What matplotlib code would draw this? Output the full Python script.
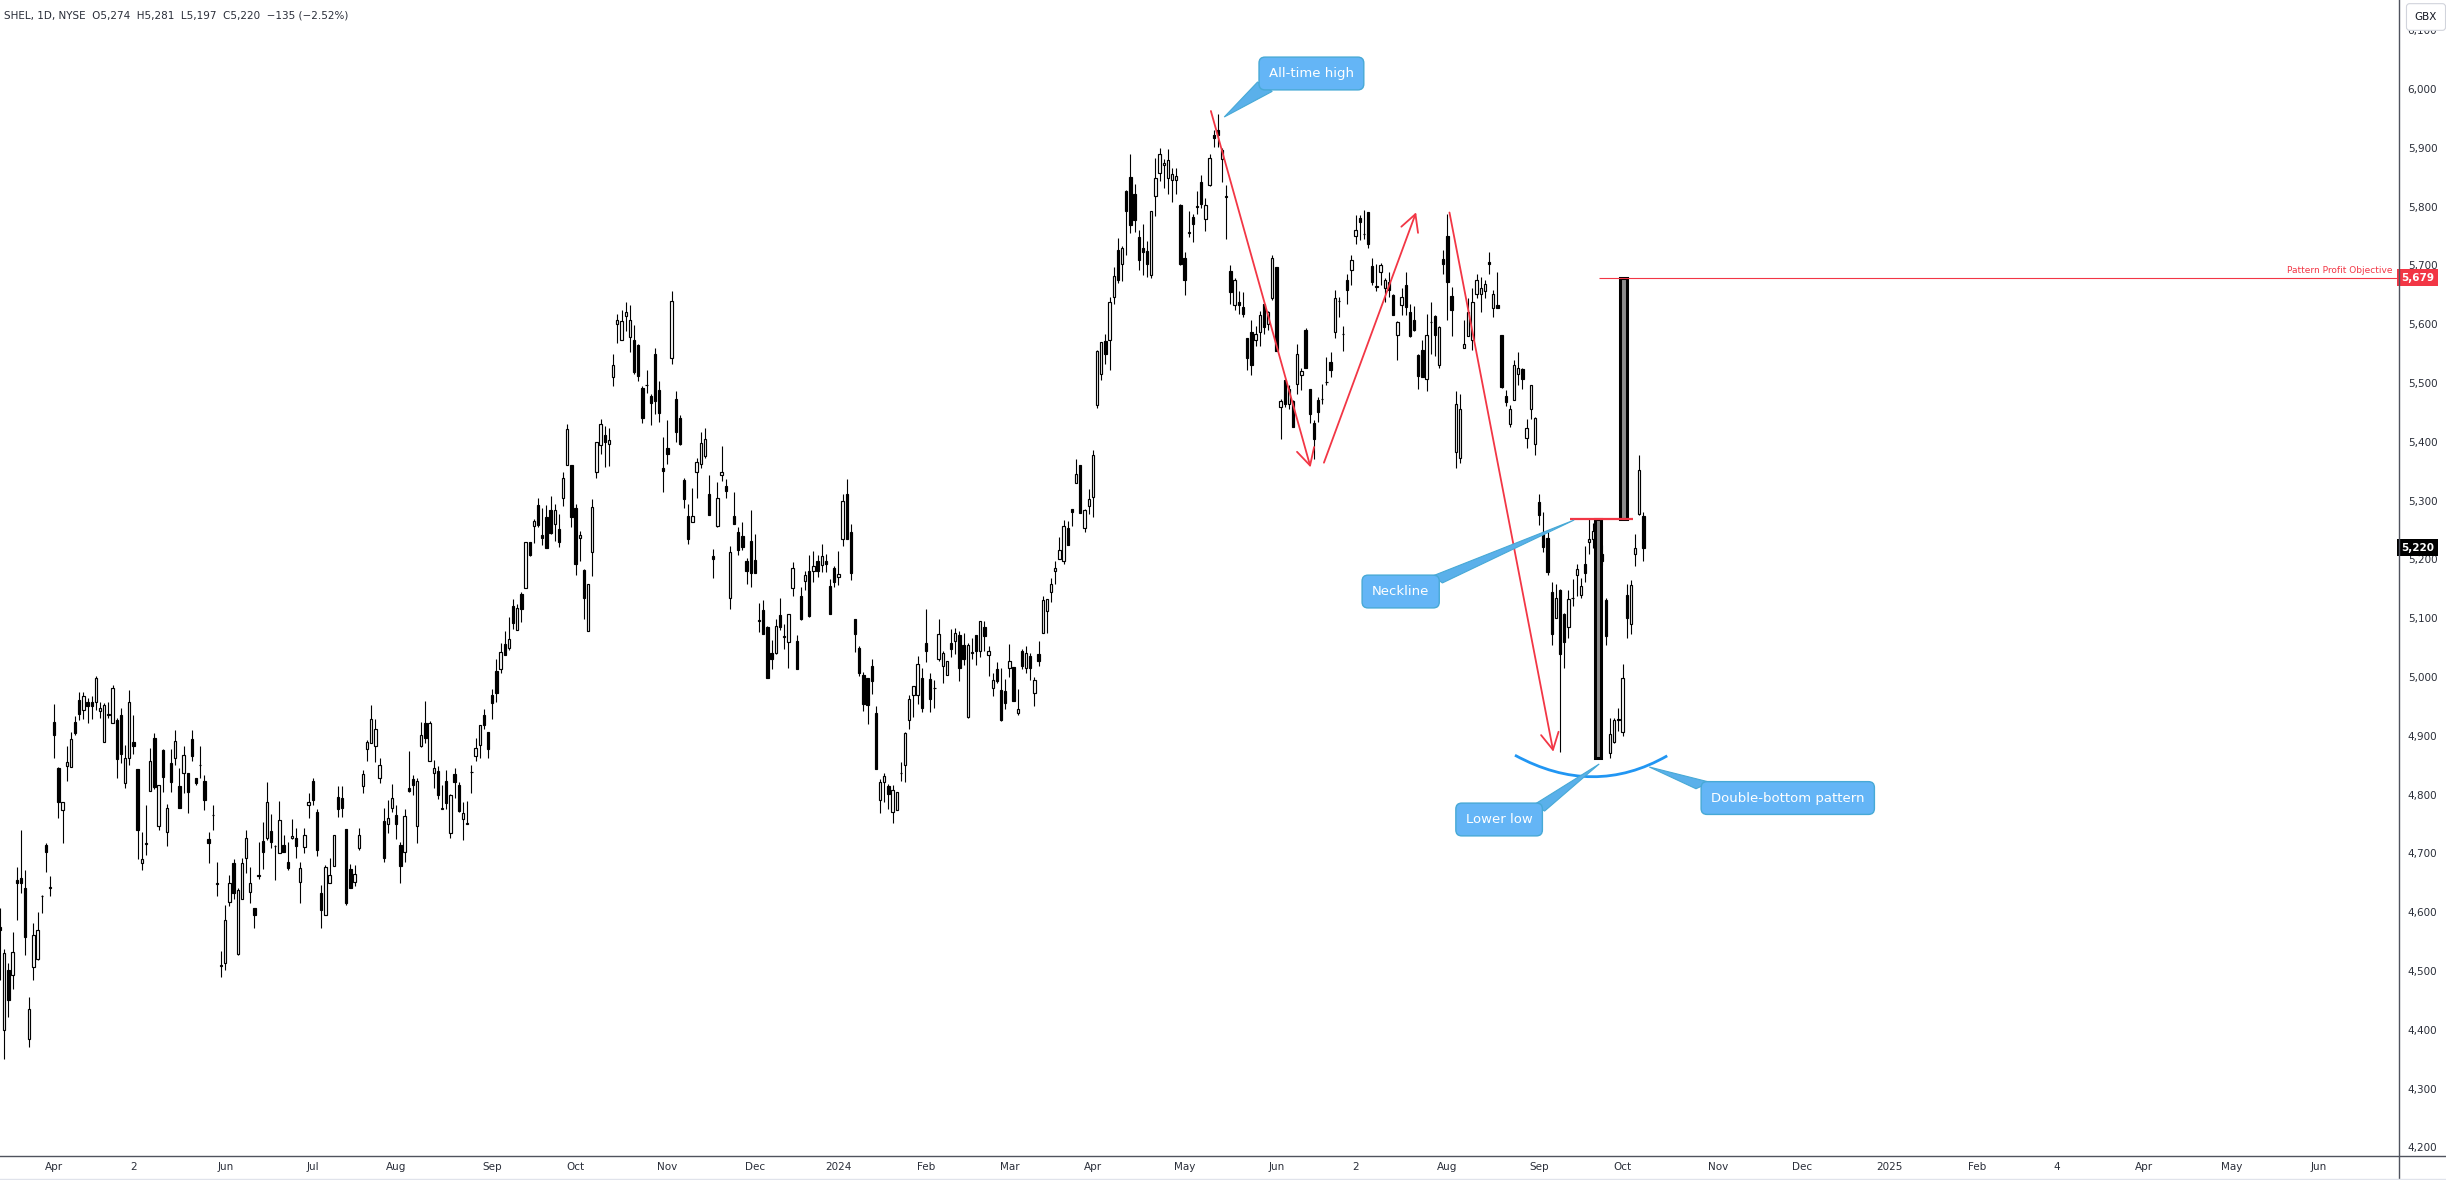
import numpy as np
import pandas as pd
import matplotlib
matplotlib.use('Agg')
import matplotlib.pyplot as plt
from matplotlib.patches import Rectangle, Polygon, PathPatch
from matplotlib.path import Path
from matplotlib.lines import Line2D

# daily candles, SHEL, from 2023-03-15
opens = [
    4575, 4400, 4502, 4493, 4655, 4659, 4642, 4385, 4507, 4521,
    4627, 4715, 4642, 4923, 4845, 4773, 4849, 4847, 4923, 4961,
    4944, 4957, 4957, 4957, 4943, 4890, 4936, 4921, 4927, 4935,
    4820, 4863, 4889, 4844, 4683, 4716, 4807, 4896, 4747, 4876,
    4737, 4853, 4863, 4815, 4836, 4836, 4894, 4828, 4850, 4823,
    4724, 4765, 4648, 4509, 4513, 4617, 4683, 4529, 4622, 4692,
    4635, 4608, 4662, 4721, 4727, 4738, 4712, 4701, 4715, 4685,
    4726, 4727, 4651, 4711, 4782, 4823, 4770, 4632, 4596, 4650,
    4679, 4796, 4794, 4741, 4673, 4652, 4709, 4815, 4877, 4888,
    4883, 4828, 4755, 4750, 4777, 4765, 4714, 4703, 4812, 4826,
    4746, 4883, 4922, 4858, 4836, 4840, 4776, 4823, 4734, 4835,
    4816, 4759, 4750, 4838, 4866, 4885, 4935, 4906, 4969, 5010,
    5013, 5057, 5050, 5121, 5080, 5141, 5152, 5230, 5257, 5293,
    5241, 5272, 5284, 5260, 5251, 5304, 5360, 5360, 5288, 5236,
    5182, 5078, 5213, 5348, 5394, 5411, 5397, 5511, 5601, 5574,
    5614, 5579, 5574, 5564, 5492, 5496, 5478, 5549, 5488, 5356,
    5390, 5543, 5472, 5441, 5335, 5274, 5264, 5349, 5363, 5376,
    5312, 5205, 5257, 5343, 5325, 5135, 5274, 5246, 5239, 5198,
    5232, 5199, 5096, 5114, 5085, 5040, 5041, 5105, 5068, 5059,
    5151, 5062, 5137, 5164, 5181, 5181, 5198, 5191, 5198, 5155,
    5186, 5170, 5234, 5312, 5246, 5098, 5050, 5004, 4999, 5018,
    4938, 4791, 4821, 4815, 4770, 4774, 4836, 4851, 4927, 4970,
    4970, 4999, 5058, 4996, 4981, 5030, 5018, 5003, 5058, 5061,
    5072, 5055, 4932, 5041, 5072, 5045, 5085, 5038, 4981, 5014,
    4978, 4976, 5015, 5017, 4938, 5045, 5015, 5036, 4973, 5039,
    5075, 5112, 5145, 5181, 5200, 5198, 5254, 5286, 5330, 5361,
    5254, 5290, 5307, 5462, 5516, 5571, 5574, 5646, 5727, 5702,
    5826, 5851, 5822, 5748, 5729, 5724, 5683, 5818, 5857, 5870,
    5849, 5846, 5846, 5803, 5712, 5755, 5783, 5800, 5842, 5779,
    5836, 5921, 5931, 5881, 5817, 5690, 5632, 5638, 5630, 5577,
    5586, 5573, 5586, 5634, 5601, 5644, 5697, 5459, 5505, 5465,
    5469, 5499, 5513, 5591, 5489, 5432, 5471, 5472, 5501, 5536,
    5586, 5639, 5583, 5676, 5693, 5750, 5781, 5753, 5791, 5699,
    5664, 5689, 5661, 5671, 5649, 5581, 5632, 5667, 5620, 5608,
    5547, 5556, 5506, 5603, 5614, 5531, 5711, 5750, 5648, 5382,
    5372, 5559, 5580, 5574, 5652, 5652, 5657, 5706, 5628, 5632,
    5582, 5478, 5431, 5471, 5516, 5523, 5406, 5455, 5397, 5298,
    5246, 5237, 5144, 5101, 5148, 5107, 5085, 5134, 5173, 5139,
    5193, 5229, 5234, 5245, 5209, 5131, 4870, 4890, 4927, 4906,
    5139, 5091, 5210, 5278, 5274,
]
highs = [
    4607, 4538, 4513, 4567, 4677, 4740, 4672, 4456, 4581, 4601,
    4629, 4718, 4661, 4954, 4847, 4788, 4883, 4906, 4933, 4975,
    4974, 4965, 4967, 5002, 4958, 4955, 4958, 4987, 4930, 4948,
    4884, 4978, 4935, 4844, 4737, 4782, 4879, 4904, 4817, 4878,
    4784, 4878, 4910, 4846, 4882, 4837, 4910, 4829, 4883, 4833,
    4736, 4782, 4685, 4534, 4612, 4664, 4690, 4642, 4692, 4740,
    4677, 4608, 4719, 4753, 4821, 4767, 4714, 4789, 4732, 4720,
    4758, 4743, 4685, 4743, 4802, 4828, 4775, 4646, 4680, 4693,
    4731, 4815, 4815, 4741, 4682, 4680, 4743, 4842, 4893, 4952,
    4928, 4863, 4777, 4791, 4818, 4782, 4719, 4775, 4874, 4833,
    4828, 4924, 4959, 4925, 4859, 4849, 4816, 4842, 4801, 4845,
    4821, 4788, 4789, 4850, 4897, 4918, 4945, 4906, 4980, 5031,
    5058, 5078, 5102, 5132, 5124, 5144, 5230, 5230, 5268, 5305,
    5287, 5293, 5308, 5294, 5277, 5348, 5431, 5360, 5295, 5248,
    5183, 5159, 5302, 5400, 5438, 5427, 5423, 5550, 5618, 5625,
    5637, 5632, 5598, 5566, 5495, 5522, 5482, 5559, 5504, 5408,
    5437, 5656, 5486, 5445, 5339, 5294, 5322, 5372, 5417, 5424,
    5343, 5217, 5332, 5393, 5337, 5222, 5314, 5255, 5263, 5203,
    5284, 5243, 5126, 5131, 5086, 5063, 5099, 5135, 5090, 5107,
    5196, 5072, 5153, 5181, 5207, 5215, 5207, 5227, 5210, 5167,
    5189, 5215, 5312, 5337, 5260, 5099, 5052, 5009, 4999, 5031,
    4951, 4827, 4837, 4818, 4817, 4804, 4856, 4906, 4970, 4985,
    5035, 5015, 5116, 5007, 4995, 5099, 5045, 5028, 5081, 5083,
    5078, 5075, 5058, 5066, 5072, 5096, 5096, 5053, 5006, 5025,
    5015, 4996, 5056, 5017, 4979, 5047, 5053, 5041, 5000, 5061,
    5137, 5133, 5169, 5197, 5238, 5267, 5265, 5286, 5370, 5361,
    5286, 5319, 5386, 5556, 5570, 5584, 5646, 5697, 5746, 5733,
    5828, 5889, 5838, 5760, 5771, 5741, 5792, 5882, 5899, 5881,
    5898, 5865, 5866, 5805, 5723, 5793, 5787, 5827, 5853, 5814,
    5890, 5930, 5957, 5900, 5836, 5700, 5679, 5657, 5654, 5577,
    5608, 5597, 5622, 5635, 5622, 5717, 5697, 5473, 5505, 5496,
    5471, 5566, 5525, 5594, 5489, 5437, 5476, 5499, 5545, 5553,
    5659, 5646, 5597, 5685, 5717, 5786, 5785, 5795, 5791, 5713,
    5702, 5704, 5679, 5688, 5651, 5606, 5662, 5688, 5634, 5631,
    5549, 5574, 5618, 5638, 5615, 5597, 5727, 5788, 5664, 5487,
    5482, 5608, 5644, 5661, 5686, 5681, 5676, 5723, 5658, 5688,
    5582, 5488, 5462, 5539, 5552, 5526, 5438, 5497, 5442, 5311,
    5281, 5250, 5161, 5159, 5150, 5109, 5148, 5166, 5193, 5168,
    5223, 5270, 5262, 5255, 5224, 5135, 4931, 4931, 4948, 5022,
    5158, 5165, 5244, 5377, 5281,
]
lows = [
    4485, 4351, 4422, 4470, 4587, 4632, 4527, 4371, 4485, 4519,
    4599, 4669, 4628, 4863, 4760, 4718, 4824, 4847, 4901, 4927,
    4929, 4921, 4929, 4944, 4930, 4890, 4930, 4921, 4828, 4854,
    4812, 4850, 4869, 4690, 4671, 4697, 4807, 4810, 4740, 4804,
    4713, 4804, 4850, 4777, 4803, 4769, 4858, 4817, 4829, 4773,
    4683, 4740, 4628, 4490, 4502, 4611, 4622, 4527, 4622, 4666,
    4615, 4574, 4656, 4673, 4722, 4710, 4654, 4701, 4702, 4671,
    4724, 4693, 4615, 4700, 4760, 4782, 4696, 4574, 4596, 4649,
    4679, 4762, 4762, 4613, 4642, 4645, 4706, 4802, 4858, 4888,
    4856, 4820, 4686, 4734, 4771, 4724, 4649, 4686, 4805, 4799,
    4718, 4881, 4888, 4858, 4811, 4793, 4775, 4775, 4727, 4794,
    4771, 4722, 4750, 4803, 4857, 4862, 4911, 4862, 4928, 4958,
    5007, 5037, 5046, 5081, 5080, 5094, 5152, 5206, 5228, 5255,
    5225, 5219, 5243, 5232, 5221, 5291, 5360, 5255, 5173, 5198,
    5098, 5078, 5172, 5338, 5380, 5357, 5359, 5495, 5568, 5574,
    5589, 5553, 5516, 5504, 5432, 5483, 5429, 5447, 5434, 5314,
    5363, 5532, 5400, 5395, 5288, 5227, 5264, 5304, 5355, 5373,
    5275, 5169, 5255, 5333, 5305, 5115, 5260, 5207, 5216, 5158,
    5153, 5177, 5077, 5073, 4998, 5014, 5039, 5080, 5047, 5016,
    5138, 5013, 5097, 5148, 5102, 5162, 5170, 5179, 5179, 5107,
    5153, 5156, 5222, 5234, 5165, 5042, 5001, 4943, 4920, 4971,
    4844, 4769, 4788, 4775, 4752, 4774, 4824, 4821, 4911, 4932,
    4954, 4941, 5026, 4941, 4947, 5028, 4989, 5003, 5034, 5039,
    4994, 5021, 4930, 5031, 5021, 5034, 5045, 5002, 4968, 4990,
    4925, 4946, 5000, 4960, 4935, 5014, 5006, 4995, 4951, 5018,
    5075, 5075, 5128, 5159, 5200, 5192, 5224, 5257, 5330, 5279,
    5247, 5278, 5272, 5458, 5505, 5532, 5522, 5634, 5670, 5674,
    5717, 5755, 5756, 5692, 5683, 5680, 5679, 5784, 5844, 5832,
    5822, 5808, 5822, 5700, 5649, 5748, 5739, 5788, 5797, 5759,
    5835, 5902, 5902, 5842, 5745, 5635, 5624, 5617, 5612, 5522,
    5514, 5563, 5563, 5584, 5590, 5642, 5555, 5404, 5459, 5456,
    5425, 5482, 5488, 5525, 5432, 5371, 5434, 5465, 5496, 5510,
    5577, 5612, 5555, 5635, 5667, 5736, 5744, 5745, 5729, 5667,
    5656, 5667, 5638, 5646, 5616, 5540, 5615, 5615, 5579, 5589,
    5489, 5510, 5486, 5549, 5546, 5526, 5685, 5608, 5580, 5356,
    5364, 5559, 5580, 5556, 5645, 5621, 5644, 5685, 5613, 5627,
    5491, 5461, 5425, 5471, 5496, 5489, 5389, 5438, 5377, 5258,
    5213, 5174, 5055, 5100, 4873, 5015, 5066, 5121, 5137, 5134,
    5162, 5209, 5220, 5205, 5190, 5054, 4863, 4887, 4909, 4900,
    5067, 5073, 5188, 5276, 5197,
]
closes = [
    4570, 4530, 4451, 4533, 4649, 4649, 4558, 4436, 4561, 4569,
    4628, 4702, 4643, 4901, 4788, 4787, 4856, 4894, 4905, 4937,
    4968, 4951, 4950, 4998, 4947, 4953, 4937, 4982, 4860, 4869,
    4863, 4957, 4882, 4740, 4690, 4717, 4858, 4813, 4817, 4830,
    4777, 4821, 4891, 4777, 4867, 4805, 4866, 4820, 4851, 4791,
    4718, 4766, 4649, 4510, 4587, 4649, 4632, 4638, 4683, 4727,
    4649, 4595, 4663, 4703, 4788, 4719, 4713, 4757, 4702, 4675,
    4730, 4713, 4675, 4732, 4787, 4790, 4705, 4604, 4677, 4664,
    4731, 4775, 4778, 4616, 4642, 4665, 4731, 4835, 4889, 4928,
    4912, 4850, 4693, 4760, 4795, 4750, 4679, 4764, 4806, 4816,
    4823, 4902, 4897, 4921, 4846, 4799, 4777, 4786, 4799, 4821,
    4772, 4768, 4751, 4839, 4880, 4918, 4918, 4877, 4955, 4973,
    5042, 5038, 5065, 5092, 5118, 5116, 5229, 5207, 5265, 5259,
    5237, 5219, 5245, 5284, 5230, 5338, 5421, 5272, 5192, 5242,
    5134, 5159, 5289, 5400, 5431, 5400, 5403, 5530, 5608, 5605,
    5620, 5607, 5518, 5512, 5441, 5497, 5466, 5470, 5449, 5351,
    5380, 5639, 5417, 5397, 5302, 5234, 5274, 5366, 5398, 5404,
    5275, 5200, 5304, 5349, 5316, 5213, 5260, 5216, 5221, 5181,
    5177, 5177, 5097, 5073, 4998, 5031, 5086, 5085, 5069, 5107,
    5186, 5013, 5099, 5173, 5104, 5189, 5181, 5205, 5192, 5107,
    5162, 5176, 5300, 5234, 5177, 5074, 5006, 4954, 4952, 4994,
    4844, 4822, 4832, 4801, 4808, 4804, 4837, 4905, 4963, 4984,
    5022, 4947, 5044, 4963, 4982, 5073, 5041, 5028, 5047, 5075,
    5015, 5031, 5055, 5042, 5045, 5095, 5069, 5044, 4995, 4993,
    4927, 4955, 5028, 4960, 4946, 5018, 5041, 5015, 4995, 5028,
    5131, 5133, 5158, 5186, 5216, 5256, 5224, 5281, 5346, 5279,
    5284, 5303, 5377, 5554, 5569, 5550, 5637, 5682, 5676, 5729,
    5793, 5768, 5777, 5709, 5722, 5702, 5792, 5849, 5890, 5874,
    5880, 5855, 5852, 5702, 5676, 5756, 5771, 5801, 5805, 5803,
    5883, 5916, 5921, 5896, 5818, 5654, 5675, 5632, 5618, 5543,
    5530, 5583, 5616, 5595, 5621, 5713, 5555, 5469, 5465, 5490,
    5425, 5550, 5520, 5525, 5448, 5405, 5451, 5473, 5502, 5522,
    5645, 5640, 5584, 5658, 5709, 5761, 5773, 5754, 5737, 5672,
    5665, 5700, 5676, 5658, 5616, 5603, 5646, 5629, 5580, 5590,
    5512, 5510, 5582, 5604, 5582, 5595, 5703, 5671, 5625, 5465,
    5455, 5567, 5620, 5637, 5675, 5662, 5669, 5702, 5652, 5627,
    5493, 5467, 5455, 5531, 5526, 5506, 5423, 5496, 5441, 5275,
    5221, 5179, 5074, 5134, 5039, 5060, 5133, 5135, 5183, 5155,
    5177, 5234, 5248, 5215, 5198, 5069, 4903, 4927, 4928, 4998,
    5101, 5156, 5219, 5352, 5220,
]

first_day = '2023-03-15'
nyse_holidays = ['2023-04-07', '2023-05-29', '2023-06-19', '2023-07-04', '2023-09-04',
                 '2023-11-23', '2023-12-25', '2024-01-01', '2024-01-15', '2024-02-19',
                 '2024-03-29', '2024-05-27', '2024-06-19', '2024-07-04', '2024-09-02',
                 '2024-11-28', '2024-12-25', '2025-01-01', '2025-01-20', '2025-02-17',
                 '2025-04-18', '2025-05-26']
month_labels = ['Apr', '2', 'Jun', 'Jul', 'Aug', 'Sep', 'Oct', 'Nov', 'Dec', '2024',
                'Feb', 'Mar', 'Apr', 'May', 'Jun', '2', 'Aug', 'Sep', 'Oct', 'Nov',
                'Dec', '2025', 'Feb', '4', 'Apr', 'May', 'Jun']
price_levels = list(range(4200, 6200, 100))

neckline = 5268
objective = 5679
header = 'SHEL, 1D, NYSE  O5,274  H5,281  L5,197  C5,220  \u2212135 (\u22122.52%)'

RED = '#f23645'
BLUE = '#2196f3'
TXT = '#131722'

W, H = 2446, 1180
fig = plt.figure(figsize=(W / 100, H / 100), dpi=100)
ax = fig.add_axes([0, 24 / H, 2398 / W, 1156 / H])
ax.set_xlim(0, 574.9)
ax.set_ylim(4185.4, 6151.4)
for s in ax.spines.values():
    s.set_visible(False)

# candles
o = np.array(opens)
hi = np.array(highs)
lo = np.array(lows)
c = np.array(closes)
x = np.arange(len(o))
up = c >= o
ax.vlines(x, lo, hi, color='black', lw=0.8, zorder=2)
ax.bar(x, np.abs(c - o), bottom=np.minimum(o, c), width=0.56,
       color=np.where(up, 'white', 'black'), edgecolor='black', linewidth=0.85, zorder=3)

# x axis: first trading day of every month
cbd = pd.offsets.CustomBusinessDay(holidays=nyse_holidays)
dates = pd.date_range(first_day, periods=600, freq=cbd)
month_first = np.flatnonzero(~dates.to_period('M').duplicated())[1:1 + len(month_labels)]
ax.set_xticks(month_first, month_labels)
ax.tick_params(axis='x', length=0, pad=4, labelsize=7.5, labelcolor='#2a2e39')

# price axis
ax.yaxis.tick_right()
ax.set_yticks(price_levels, [f'{p:,}' for p in price_levels])
ax.tick_params(axis='y', length=0, pad=7, labelsize=7.5, labelcolor='#2a2e39')

# double bottom measurement bars
pattern_low = min(lows[370:])
ax.add_patch(Rectangle((383.1 - 0.8, pattern_low), 1.6, neckline - pattern_low,
                       fc='#8c8c8c', ec='black', lw=2.2, zorder=5))
ax.add_patch(Rectangle((389.2 - 0.8, neckline), 1.6, objective - neckline,
                       fc='#8c8c8c', ec='black', lw=2.2, zorder=5))
ax.hlines(neckline, 376.4, 391.6, color=RED, lw=1.6, zorder=6)
ax.hlines(objective, 383.4, 574.9, color=RED, lw=0.8, zorder=6)
ax.text(573.6, objective + 4, 'Pattern Profit Objective', ha='right', va='bottom',
        fontsize=6.5, color=RED, zorder=6)

# red swing arrows
arrow_kw = dict(arrowstyle='->,head_length=0.6,head_width=0.32', color=RED, lw=1.3,
                mutation_scale=20, shrinkA=0, shrinkB=0)
for start, end in [((290.3, 5962.6), (314.2, 5356.6)),
                   ((317.4, 5364.5), (339.5, 5790.3)),
                   ((347.5, 5790.0), (372.4, 4873.0))]:
    ax.annotate('', xy=end, xytext=start, arrowprops=arrow_kw, zorder=6)

# blue arc under the two bottoms
arc = Path([(363.2, 4867), (382.0, 4794.3), (399.7, 4866)],
           [Path.MOVETO, Path.CURVE3, Path.CURVE3])
ax.add_patch(PathPatch(arc, fc='none', ec=BLUE, lw=2, zorder=6))

# callouts
bubbles = [
    ('All-time high', (314.4, 6026.4), [(301.5, 6012), (305.0, 5996), (293.5, 5952.4)]),
    ('Neckline', (335.8, 5145.4), [(343.5, 5172), (345.8, 5160), (377.4, 5267.0)]),
    ('Lower low', (359.4, 4757.7), [(367.8, 4783), (370.3, 4772), (383.4, 4852.1)]),
    ('Double-bottom pattern', (428.6, 4794.2), [(406.6, 4810), (410.0, 4821), (395.4, 4847.0)]),
]
for label, pos, tail in bubbles:
    ax.add_patch(Polygon(tail, closed=True, fc='#5ab0ea', ec='#47a9d6', lw=0.8, zorder=7))
    ax.text(pos[0], pos[1], label, ha='center', va='center', fontsize=9.5, color='white',
            zorder=8, bbox=dict(boxstyle='round,pad=0.75,rounding_size=0.45',
                                fc='#64b5f6', ec='#47a9d6', lw=1))

# price labels on the axis
for price, col in [(objective, RED), (closes[-1], 'black')]:
    ax.annotate(f'{price:,}', xy=(1, price), xycoords=('axes fraction', 'data'),
                xytext=(2.2, 0), textcoords='offset points', ha='left', va='center',
                fontsize=7.5, fontweight='bold', color='white', annotation_clip=False,
                zorder=10, bbox=dict(boxstyle='square,pad=0.35', fc=col, ec='none'))

# frame lines
fig.add_artist(Line2D([0, 1], [24 / H, 24 / H], transform=fig.transFigure,
                      color='#50535e', lw=1))
fig.add_artist(Line2D([2398.5 / W, 2398.5 / W], [0, 1], transform=fig.transFigure,
                      color='#50535e', lw=1))
fig.add_artist(Line2D([0, 1], [1.5 / H, 1.5 / H], transform=fig.transFigure,
                      color='#e0e3eb', lw=1))

fig.text(4 / W, 1 - 15 / H, header, fontsize=7.5, color='#2a2e39', ha='left', va='center')
fig.text(2426 / W, 1 - 17 / H, 'GBX', fontsize=7.5, color=TXT, ha='center', va='center',
         zorder=10, bbox=dict(boxstyle='round,pad=0.8,rounding_size=0.3',
                              fc='white', ec='#d1d4dc', lw=0.8))

fig.savefig('out.png', dpi=100, facecolor='white')
